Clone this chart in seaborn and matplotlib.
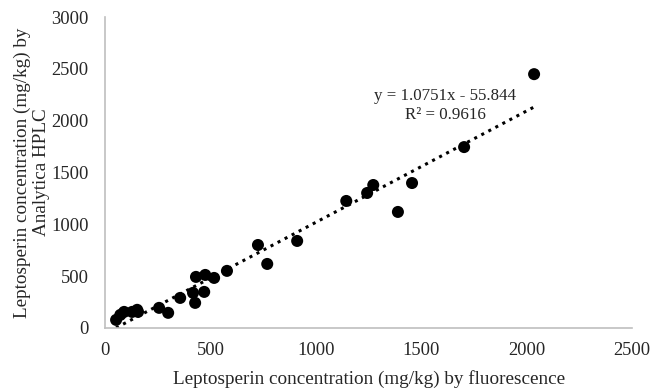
import seaborn as sns
import matplotlib.pyplot as plt
import numpy as np

# leptosperin by fluorescence (x) vs by HPLC (y), mg/kg
fluor = [52, 72, 90, 128, 152, 156, 256, 299, 356, 417, 427, 470, 431, 475, 517, 578,
         725, 769, 911, 1144, 1243, 1272, 1389, 1456, 1703, 2035]
hplc = [77, 125, 154, 154, 174, 154, 193, 145, 289, 338, 241, 347, 492, 511, 482, 550,
        800, 617, 839, 1225, 1302, 1379, 1119, 1398, 1745, 2449]

slope, intercept = 1.0751, -55.844
eq_label = "y = 1.0751x - 55.844"
r2_label = "R² = 0.9616"

sns.set_style("white")
plt.rcParams['font.family'] = ['Liberation Serif', 'DejaVu Serif']

fig = plt.figure(figsize=(6.53, 3.88), dpi=100)
ax = fig.add_axes([0.161, 0.155, 0.807, 0.801])

sns.scatterplot(x=fluor, y=hplc, color='black', s=75, edgecolor='none', ax=ax, zorder=3)

xs = np.array([min(fluor), max(fluor)])
ax.plot(xs, slope * xs + intercept, color='black', linestyle=(0, (1, 1.6)), linewidth=2.2)

ax.text(1613, 2237, eq_label, ha='center', va='center', fontsize=12.2)
ax.text(1613, 2054, r2_label, ha='center', va='center', fontsize=12.2)

ax.set_xlim(0, 2500)
ax.set_ylim(0, 3000)
ax.set_xticks(range(0, 2501, 500))
ax.set_yticks(range(0, 3001, 500))
ax.tick_params(axis='x', length=0, labelsize=13.3, pad=10)
ax.tick_params(axis='y', length=0, labelsize=13.3, pad=12)
for side in ['top', 'right']:
    ax.spines[side].set_visible(False)
for side in ['left', 'bottom']:
    ax.spines[side].set_color('#BFBFBF')
    ax.spines[side].set_linewidth(1.2)

ax.set_xlabel("Leptosperin concentration (mg/kg) by fluorescence", fontsize=13.8, labelpad=8)
ax.set_ylabel("Leptosperin concentration (mg/kg) by\nAnalytica HPLC", fontsize=13.8, labelpad=0.5)

fig.savefig("out.png", dpi=100)
